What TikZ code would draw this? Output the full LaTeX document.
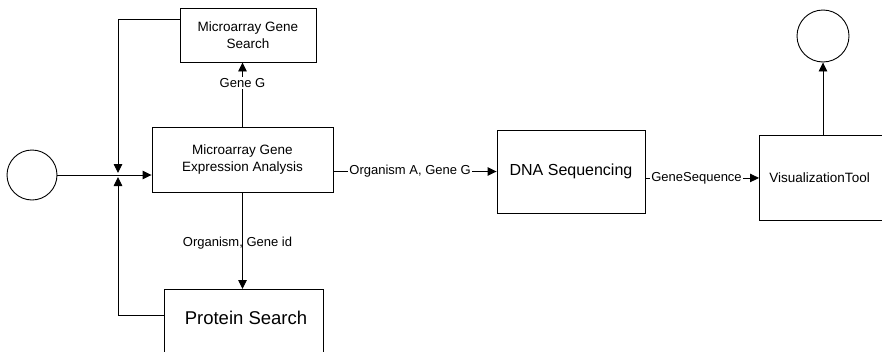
\documentclass[tikz,border=0pt]{standalone}
\usepackage{fontspec}
\setmainfont{Liberation Sans}
\usetikzlibrary{arrows.meta}
\tikzset{
  box/.style={draw, inner sep=0pt, align=center},
  ends/.style={draw, circle, inner sep=0pt},
  lbl/.style={font=\fontsize{13}{15}\selectfont, fill=white, inner sep=1pt},
}
\begin{document}
\begin{tikzpicture}[x=1pt, y=-1pt, line width=0.9pt, >={Triangle[length=9pt,width=8.5pt]}]
  \useasboundingbox (0,0) rectangle (882,351);
  \node[ends, minimum size=50pt] (start) at (32,175) {};
  \node[box, minimum width=136pt, minimum height=54pt, font=\fontsize{13.5}{17}\selectfont] (mgs) at (248,35) {Microarray Gene\\Search};
  \node[box, minimum width=181pt, minimum height=65pt, font=\fontsize{13.5}{17}\selectfont] (mgea) at (242.5,159.5) {Microarray Gene\\Expression Analysis};
  \node[box, anchor=north west, minimum width=159pt, minimum height=90pt] (ps) at (164,289) {};
  \node[font=\fontsize{18.5}{22}\selectfont] (pstext) at (246,318) {Protein Search};
  \node[box, minimum width=148pt, minimum height=83pt, font=\fontsize{16}{19}\selectfont] (dna) at (571,171.5) {DNA Sequencing};
  \node[box, anchor=north west, minimum height=85pt, text width=130pt, inner xsep=10pt, align=left, font=\fontsize{13.5}{16}\selectfont] (vis) at (759,135) {VisualizationTool};
  \node[ends, minimum size=52pt] (stop) at (823,36) {};
  \coordinate (j) at (118,175);
  \coordinate (top) at (118,19);
  \coordinate (bot) at (118,315);
  \draw[->] (start) -- (mgea.west |- start);
  \draw[->, shorten >=2pt] (mgs.west |- top) -- (top) -- (j);
  \draw[->, shorten >=2pt] (ps.west |- bot) -- (bot) -- (j);
  \draw[->] (mgea.north) -- (mgea.north |- mgs.south) node[lbl, pos=0.68] {Gene G};
  \draw[->] (mgea.south) -- (mgea.south |- ps.north) node[lbl, fill=none, pos=0.53, xshift=-5pt] {Organism, Gene id};
  \draw[->] (mgea.east |- dna.west) -- (dna.west) node[lbl, pos=0.47] {Organism A, Gene G};
  \draw[->] (dna.east |- vis.west) -- (vis.west) node[lbl, pos=0.45] {GeneSequence};
  \draw[->] (stop |- vis.north) -- (stop.south);
\end{tikzpicture}
\end{document}
